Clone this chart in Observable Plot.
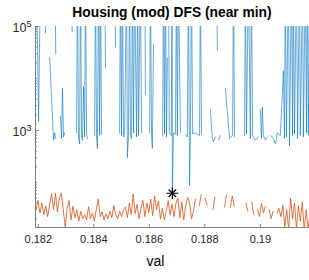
<!DOCTYPE html>
<html><head><meta charset="utf-8">
<script src="https://cdn.jsdelivr.net/npm/d3@7"></script>
<script src="https://cdn.jsdelivr.net/npm/@observablehq/plot@0.6"></script>
<style>
body{margin:0;background:#fff;}
#wrap{position:relative;width:309px;height:280px;}
#title{position:absolute;left:35px;width:274px;top:4px;text-align:center;font:bold 13.8px "Liberation Sans",Arial,sans-serif;line-height:18px;color:#000;}
</style></head><body>
<div id="wrap"><div id="chart"></div><div id="title">Housing (mod) DFS (near min)</div></div>
<script>
const xDomain = [0.1819, 0.19177];
const yDomain = [13.6, 1e5];
const xTicks = [0.182, 0.184, 0.186, 0.188, 0.19];
const yTicks = [1e3, 1e5];
const yMinor = [20,30,40,50,60,70,80,90,100,200,300,400,500,600,700,800,900,2000,3000,4000,5000,6000,7000,8000,9000,10000,20000,30000,40000,50000,60000,70000,80000,90000];
const starPoint = [[0.18683, 62]];

const blueSeries = [
[0.18194,1e6],[0.18201,1500],[0.18208,1e6],[null,null],
[0.18224,1e6],[0.18226,75000],[null,null],
[0.18241,25000],[0.18255,650],[0.18259,900],[0.18262,700],[null,null],
[0.18260,1e6],[0.18263,30000],[null,null],
[0.18280,1900],[0.18284,700],[0.18287,6500],[0.18291,750],[0.18295,900],[null,null],
[0.18319,1e6],[0.18322,80000],[null,null],
[0.18338,900],[0.18341,1e6],[0.18345,700],[0.18349,550],[0.18352,1e6],[0.18356,800],[0.18359,650],[0.18363,7000],[0.18367,750],[0.18370,1e6],[0.18374,900],[0.18377,700],[null,null],
[0.18403,800],[0.18406,1e6],[0.18410,750],[0.18413,450],[0.18417,1e6],[0.18421,800],[0.18424,1e6],[0.18428,850],[null,null],
[0.18440,1e6],[0.18442,16000],[null,null],
[0.18476,1e6],[0.18478,40000],[null,null],
[0.18493,900],[0.18496,1e6],[0.18500,800],[0.18503,1e6],[0.18507,750],[0.18511,900],[0.18518,1e6],[0.18521,300],[0.18525,800],[0.18529,1e6],[0.18532,850],[0.18536,700],[0.18539,1e6],[0.18543,900],[0.18547,1e6],[0.18554,750],[0.18558,1e6],[0.18561,800],[0.18568,1e6],[0.18572,900],[null,null],
[0.18584,1e6],[0.18586,5000],[null,null],
[0.18601,900],[0.18604,1e6],[0.18608,800],[0.18611,450],[0.18615,45000],[null,null],
[0.18648,800],[0.18651,1e6],[0.18655,850],[0.18658,1e6],[0.18662,750],[0.18665,25000],[null,null],
[0.18669,1e6],[0.18672,900],[0.18679,800],[0.18682,1e6],[0.18683,62],[0.18687,900],[0.18694,850],[0.18698,1e6],[0.18701,800],[0.18705,1e6],[0.18712,900],[null,null],
[0.18730,850],[0.18737,750],[0.18741,1e6],[0.18745,87],[0.18748,800],[0.18752,1e6],[0.18756,850],[0.18766,900],[0.18781,800],[0.18784,1e6],[0.18788,850],[null,null],
[0.18820,2500],[0.18827,700],[0.18831,600],[0.18838,750],[null,null],
[0.18843,1e6],[0.18845,35000],[null,null],
[0.18849,650],[0.18856,800],[null,null],
[0.18874,6500],[0.18889,700],[0.18900,800],[0.18903,1e6],[0.18907,750],[null,null],
[0.18943,800],[0.18946,1e6],[0.18950,850],[0.18957,1e6],[0.18964,700],[0.18968,1e6],[0.18972,800],[0.18982,650],[0.18993,750],[null,null],
[0.19000,2500],[0.19004,700],[0.19007,2800],[0.19011,800],[0.19018,650],[0.19025,750],[null,null],
[0.19036,800],[0.19047,700],[0.19054,550],[0.19058,700],[0.19061,900],[0.19072,800],[0.19083,14000],[0.19087,700],[0.19090,1e6],[0.19094,750],[0.19101,1e6],[0.19105,500],[0.19112,1e6],[0.19116,800],[0.19119,1e6],[0.19123,850],[0.19130,1e6],[0.19134,700],[0.19141,1e6],[0.19144,800],[0.19152,1e6],[0.19155,750],[0.19162,1e6],[0.19166,900],[0.19169,1e6],[0.19173,800],[0.19177,1e6]
];

const orangeSeries = [
[0.18192,30],[0.18199,45],[0.18206,26],[0.18213,40],[0.18220,24],[0.18227,35],[0.18234,22],[0.18241,38],[0.18248,60],[0.18255,30],
[0.18262,62],[0.18269,27],[0.18276,50],[0.18283,62],[0.18290,30],[0.18297,14],[0.18304,32],[0.18311,45],[0.18318,19],[0.18325,35],
[0.18332,21],[0.18339,30],[0.18346,18],[0.18353,28],[0.18360,20],[0.18367,24],[0.18374,19],[0.18381,34],[0.18388,20],[0.18395,26],
[0.18402,18],[0.18409,30],[0.18416,48],[0.18423,22],[0.18430,27],[0.18437,19],[0.18444,25],[0.18451,20],[0.18458,28],[0.18465,21],
[0.18472,36],[0.18479,24],[0.18486,20],[0.18493,28],[0.18500,22],[0.18507,30],[0.18514,34],[0.18521,21],[0.18528,40],[0.18535,24],
[0.18542,60],[0.18549,25],[0.18556,38],[0.18563,20],[0.18570,32],[0.18577,45],[0.18584,22],[0.18591,40],[0.18598,26],[0.18605,48],
[0.18612,23],[0.18619,55],[0.18626,30],[0.18633,44],[0.18640,20],[0.18647,32],[0.18654,19],[0.18661,28],[0.18668,45],[0.18675,24],
[0.18682,38],[0.18689,22],[0.18696,40],[0.18703,50],[0.18710,21],[0.18717,42],[0.18724,19],[0.18731,35],[0.18738,52],[0.18745,40],
[0.18752,20],[0.18759,28],[0.18766,48],[0.18773,null],[0.18780,36],[0.18787,58],[0.18794,null],[0.18801,50],[0.18808,36],[0.18815,null],
[0.18822,null],[0.18829,30],[0.18836,52],[0.18843,null],[0.18850,null],[0.18857,null],[0.18864,null],[0.18871,34],[0.18878,58],[0.18885,null],
[0.18892,33],[0.18899,55],[0.18906,35],[0.18913,null],[0.18920,null],[0.18927,null],[0.18934,null],[0.18941,null],[0.18948,40],[0.18955,28],
[0.18962,null],[0.18969,42],[0.18976,24],[0.18983,null],[0.18990,30],[0.18997,22],[0.19004,40],[0.19011,26],[0.19018,35],[0.19025,null],
[0.19032,30],[0.19039,20],[0.19046,28],[0.19053,null],[0.19060,26],[0.19067,32],[0.19074,22],[0.19081,36],[0.19088,14],[0.19095,30],
[0.19102,12],[0.19109,50],[0.19116,20],[0.19123,40],[0.19130,13],[0.19137,35],[0.19144,18],[0.19151,42],[0.19158,12],[0.19165,30],
[0.19172,13],[0.19179,25]
];

const axisColor = "#808080";
const chart = Plot.plot({
  width: 309, height: 280,
  marginLeft: 35, marginRight: 0, marginTop: 26, marginBottom: 53,
  style: {fontFamily: '"Liberation Sans", Arial, sans-serif', fontSize: "11px", color: "#262626", background: "white"},
  x: {domain: xDomain},
  y: {type: "log", domain: yDomain},
  marks: [
    Plot.line(orangeSeries, {x: d => d[0], y: d => d[1], stroke: "#D95319", strokeWidth: 0.8, clip: true}),
    Plot.line(blueSeries, {x: d => d[0], y: d => d[1], stroke: "#0072BD", strokeWidth: 0.6, clip: true}),
    Plot.dot(starPoint, {x: d => d[0], y: d => d[1], symbol: "plus", r: 4, stroke: "#000", strokeWidth: 1.2}),
    Plot.dot(starPoint, {x: d => d[0], y: d => d[1], symbol: "times", r: 3.5, stroke: "#000", strokeWidth: 1.2}),
    Plot.ruleX([xDomain[0]], {stroke: axisColor}),
    Plot.ruleY([yDomain[0]], {stroke: axisColor}),
    Plot.tickX(xTicks, {x: d => d, insetTop: 198, stroke: axisColor}),
    Plot.tickY(yTicks, {y: d => d, insetRight: 270, stroke: axisColor}),
    Plot.tickY(yMinor, {y: d => d, insetRight: 272, stroke: axisColor}),
    Plot.axisX(xTicks, {tickSize: 0, tickPadding: 8, tickFormat: d3.format(".3~f")}),
    Plot.axisY(yTicks, {tickSize: 0, tickPadding: 4, tickFormat: d => "10^" + Math.round(Math.log10(d))}),
    Plot.text(["val"], {frameAnchor: "bottom", dy: 38, dx: -17, text: d => d, fontSize: 14, fill: "#000"})
  ]
});
const ns = "http://www.w3.org/2000/svg";
chart.querySelectorAll('g[aria-label="y-axis tick label"] text').forEach(t => {
  const parts = t.textContent.split("^");
  t.textContent = "";
  const a = document.createElementNS(ns, "tspan");
  a.textContent = parts[0]; a.setAttribute("font-size", "12.5");
  const b = document.createElementNS(ns, "tspan");
  b.textContent = parts[1]; b.setAttribute("font-size", "9"); b.setAttribute("dy", "-5");
  t.append(a, b);
  t.setAttribute("transform", (t.getAttribute("transform") || "") + " translate(0,2)");
});
document.getElementById("chart").append(chart);
</script>
</body></html>
